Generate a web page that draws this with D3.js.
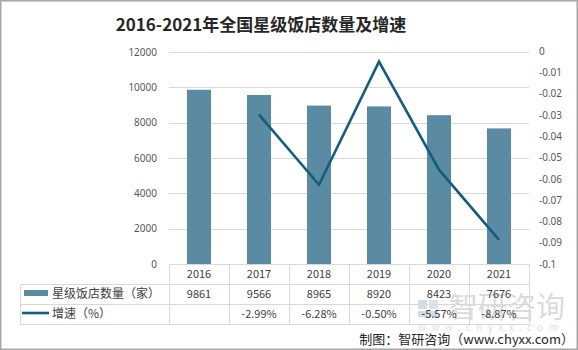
<!DOCTYPE html>
<html>
<head>
<meta charset="utf-8">
<script src="https://cdn.jsdelivr.net/npm/d3@7"></script>
<style>
  html, body { margin: 0; padding: 0; background: #fff; }
  svg { display: block; }
  text { font-family: "Noto Sans CJK SC", "Noto Sans", sans-serif; }
</style>
</head>
<body>
<svg id="chart" width="578" height="350"></svg>
<script>
// Data
const years = ["2016", "2017", "2018", "2019", "2020", "2021"];
const hotelCounts = [9861, 9566, 8965, 8920, 8423, 7676];
const growthRates = [null, -0.0299, -0.0628, -0.0050, -0.0557, -0.0887];
const leftTicks = [0, 2000, 4000, 6000, 8000, 10000, 12000];
const rightTicks = [0, -0.01, -0.02, -0.03, -0.04, -0.05, -0.06, -0.07, -0.08, -0.09, -0.1];
const seriesNames = ["星级饭店数量（家）", "增速（%）"];
const titleText = "2016-2021年全国星级饭店数量及增速";
const sourceText = "制图：智研咨询（www.chyxx.com）";

const barColor = "#5b8ba3";
const lineColor = "#135e7e";
const textColor = "#404040";
const gridColor = "#d9d9d9";

const svg = d3.select("#chart");
const W = 578, H = 350;

// Outer frame
svg.append("rect").attr("x", 0.75).attr("y", 0.75).attr("width", W - 1.5).attr("height", H - 1.5)
  .attr("fill", "#fff").attr("stroke", "#a6a6a6").attr("stroke-width", 1.5);

const plotL = 169, plotR = 529, plotT = 52, plotB = 264;

const x = d3.scaleBand().domain(years).range([plotL, plotR]);
const yL = d3.scaleLinear().domain([0, 12000]).range([plotB, plotT]);
const yR = d3.scaleLinear().domain([-0.1, 0]).range([plotB, plotT - 1]);

// Title
svg.append("text").attr("x", 261).attr("y", 31).attr("text-anchor", "middle")
  .attr("font-size", 17).attr("font-weight", "bold").attr("fill", "#262626")
  .text(titleText);

// Gridlines
svg.append("g").selectAll("line").data(leftTicks.filter(d => d > 0)).join("line")
  .attr("x1", plotL).attr("x2", plotR)
  .attr("y1", d => Math.round(yL(d)) + 0.5).attr("y2", d => Math.round(yL(d)) + 0.5)
  .attr("stroke", gridColor).attr("stroke-width", 1);

// Left axis labels
const axL = d3.axisLeft(yL).tickValues(leftTicks).tickSize(0).tickPadding(0).tickFormat(d3.format("d"));
const gL = svg.append("g").attr("transform", `translate(${plotL - 12},0)`).call(axL);
gL.select(".domain").remove();
gL.selectAll("text").attr("font-size", 10).attr("fill", "#595959")
  .style("font-family", "'Noto Sans', sans-serif");

// Right axis labels
const axR = d3.axisRight(yR).tickValues(rightTicks).tickSize(0).tickPadding(0).tickFormat(d => d === 0 ? "0" : String(+d.toFixed(2)));
const gR = svg.append("g").attr("transform", `translate(${plotR + 10},0)`).call(axR);
gR.select(".domain").remove();
gR.selectAll("text").attr("font-size", 10).attr("fill", "#595959")
  .style("font-family", "'Noto Sans', sans-serif");

// Bars
const bw = x.bandwidth() * 0.4;
svg.append("g").selectAll("rect").data(years).join("rect")
  .attr("x", (d) => x(d) + (x.bandwidth() - bw) / 2)
  .attr("width", bw)
  .attr("y", (d, i) => yL(hotelCounts[i]))
  .attr("height", (d, i) => plotB - yL(hotelCounts[i]))
  .attr("fill", barColor);

// Growth line
const pts = years.map((d, i) => ({ year: d, v: growthRates[i] })).filter(p => p.v !== null);
const line = d3.line().x(p => x(p.year) + x.bandwidth() / 2).y(p => yR(p.v));
svg.append("path").datum(pts).attr("d", line)
  .attr("fill", "none").attr("stroke", lineColor).attr("stroke-width", 2.6)
  .attr("stroke-linejoin", "miter");

// Watermark
const wm = svg.append("g").attr("opacity", 0.3);
wm.append("rect").attr("x", 418).attr("y", 300).attr("width", 9).attr("height", 9).attr("fill", "#6d8fb3");
wm.append("rect").attr("x", 429).attr("y", 300).attr("width", 9).attr("height", 9).attr("fill", "#8aa5c2");
wm.append("rect").attr("x", 418).attr("y", 311).attr("width", 20).attr("height", 6).attr("fill", "#6d8fb3");
wm.append("text").attr("x", 449).attr("y", 318).attr("font-size", 29).attr("fill", "#8a8a8a").text("智研咨询");
wm.append("text").attr("x", 418).attr("y", 331).attr("font-size", 10).attr("fill", "#9a9a9a")
  .attr("textLength", 140).attr("lengthAdjust", "spacing").text("www.chyxx.com");

// Data table
const rows = [264, 284, 304, 324];
const tbl = svg.append("g").attr("stroke", gridColor).attr("stroke-width", 1);
tbl.append("line").attr("x1", plotL).attr("x2", plotR).attr("y1", rows[0] + 0.5).attr("y2", rows[0] + 0.5);
[rows[1], rows[2], rows[3]].forEach(r => {
  tbl.append("line").attr("x1", 20).attr("x2", plotR).attr("y1", r + 0.5).attr("y2", r + 0.5);
});
tbl.append("line").attr("x1", 20.5).attr("x2", 20.5).attr("y1", rows[1]).attr("y2", rows[3]);
d3.range(years.length + 1).forEach(k => {
  const xx = Math.round(plotL + k * x.step()) + 0.5;
  tbl.append("line").attr("x1", xx).attr("x2", xx).attr("y1", rows[0]).attr("y2", rows[3]);
});

const cellText = svg.append("g").attr("font-size", 11).attr("fill", textColor).attr("text-anchor", "middle");
years.forEach((yv, i) => {
  const cx = x(yv) + x.bandwidth() / 2;
  cellText.append("text").attr("x", cx).attr("y", 278).text(yv);
  cellText.append("text").attr("x", cx).attr("y", 298).text(hotelCounts[i]);
  if (growthRates[i] !== null) {
    cellText.append("text").attr("x", cx).attr("y", 318).text((growthRates[i] * 100).toFixed(2) + "%");
  }
});

// Legend keys in the table
svg.append("rect").attr("x", 24).attr("y", 290).attr("width", 24).attr("height", 6).attr("fill", barColor);
svg.append("line").attr("x1", 22).attr("x2", 49).attr("y1", 313).attr("y2", 313)
  .attr("stroke", lineColor).attr("stroke-width", 2.6);
svg.append("text").attr("x", 52).attr("y", 298).attr("font-size", 12).attr("fill", textColor).text(seriesNames[0]);
svg.append("text").attr("x", 52).attr("y", 318).attr("font-size", 12).attr("fill", textColor).text(seriesNames[1]);

// Source note
svg.append("text").attr("x", 574).attr("y", 344).attr("text-anchor", "end")
  .attr("font-size", 13).attr("fill", "#262626").text(sourceText);
</script>
</body>
</html>
